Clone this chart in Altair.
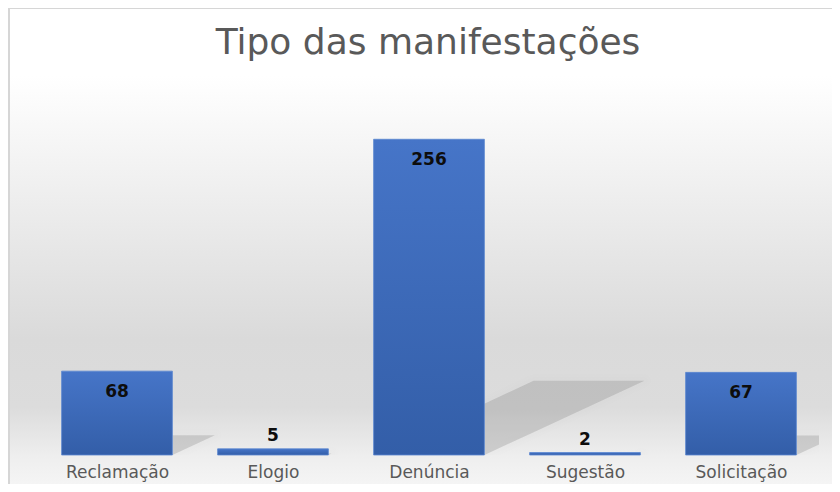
import json
import altair as alt
import pandas as pd

categories = ["Reclamação", "Elogio", "Denúncia", "Sugestão", "Solicitação"]
values = [68, 5, 256, 2, 67]
title_text = ["Tipo das manifestações"]

W, H = 780, 370
HALF = 0.355          # half bar width in category units
KX = (160 / 256) / 156  # shadow x shift per value unit (category units)
KY = 0.235            # shadow height factor

df = pd.DataFrame({"idx": list(range(len(categories))), "cat": categories, "val": values})
df["x0"] = df["idx"] - HALF
df["x1"] = df["idx"] + HALF
df["zero"] = 0

# shadow polygon (visible part right of each bar), derived from the values
rows = []
for i, v in zip(df["idx"], values):
    L, R = i - HALF, i + HALF
    d, e = v * KX, v * KY
    w = R - L
    pts = [(R, 0.0, min(e, e * w / d))]
    if L + d > R:
        pts.append((L + d, e * (L + d - R) / d, e))
    pts.append((R + d, e, e))
    for x, lo, hi in pts:
        rows.append({"g": i, "sx": x, "lo": lo, "hi": hi})
sh = pd.DataFrame(rows)

FONT = "DejaVu Sans"
xscale = alt.Scale(domain=[-0.5, len(categories) - 0.5], nice=False, zero=False)
yscale = alt.Scale(domain=[0, 300], nice=False)
xaxis = alt.Axis(values=list(range(len(categories))),
                 labelExpr=json.dumps(categories, ensure_ascii=False) + "[datum.value]",
                 title=None, grid=False, domain=False, ticks=False, zindex=2,
                 labelFont=FONT, labelFontSize=17, labelColor="#595959",
                 labelPadding=9)

bg = alt.Chart(pd.DataFrame({"a": [0]})).mark_rect(
    color=alt.Gradient(
        gradient="linear", x1=0, x2=0, y1=0, y2=1,
        stops=[
            alt.GradientStop(offset=0, color="#ffffff"),
            alt.GradientStop(offset=0.14, color="#ffffff"),
            alt.GradientStop(offset=0.68, color="#dadada"),
            alt.GradientStop(offset=0.82, color="#dcdcdc"),
            alt.GradientStop(offset=0.92, color="#eeeeee"),
            alt.GradientStop(offset=1, color="#f7f7f7"),
        ],
    ),
    stroke="#d6d6d6", strokeWidth=2,
).encode(x=alt.value(-30), x2=alt.value(W + 60), y=alt.value(-77), y2=alt.value(H + 40))

title = alt.Chart(pd.DataFrame({"t": title_text})).mark_text(
    font=FONT, fontSize=36, color="#595959", baseline="alphabetic", align="center"
).encode(x=alt.value(W / 2 - 1), y=alt.value(-31), text="t:N")

shadow_layers = []
for op, sw in [(0.05, 12), (0.08, 6), (0.16, 0)]:
    shadow_layers.append(
        alt.Chart(sh).mark_area(color="#7a7a7a", opacity=op, clip=True, interpolate="linear",
                                stroke="#7a7a7a", strokeWidth=sw, strokeJoin="round",
                                strokeOpacity=op).encode(
            x=alt.X("sx:Q", scale=xscale, axis=xaxis),
            y=alt.Y("lo:Q", scale=yscale, axis=None),
            y2="hi:Q",
            detail="g:N",
        )
    )

bars = alt.Chart(df).mark_bar(
    color=alt.Gradient(
        gradient="linear", x1=0, x2=0, y1=0, y2=1,
        stops=[alt.GradientStop(offset=0, color="#4675c8"),
               alt.GradientStop(offset=1, color="#335ea8")],
    ),
    stroke="#5b86d0", strokeWidth=0.8,
).encode(
    x=alt.X("x0:Q", scale=xscale, axis=xaxis),
    x2="x1:Q",
    y=alt.Y("val:Q", scale=yscale, axis=None),
    y2="zero:Q",
)

lab_in = alt.Chart(df).transform_filter("datum.val > 20").mark_text(
    font=FONT, fontWeight="bold", fontSize=17, color="#0d0d0d", baseline="middle", dy=21
).encode(x=alt.X("idx:Q", scale=xscale, axis=xaxis), y=alt.Y("val:Q", scale=yscale, axis=None), text="val:Q")

lab_out = alt.Chart(df).transform_filter("datum.val <= 20").mark_text(
    font=FONT, fontWeight="bold", fontSize=17, color="#0d0d0d", baseline="middle", dy=-13
).encode(x=alt.X("idx:Q", scale=xscale, axis=xaxis), y=alt.Y("val:Q", scale=yscale, axis=None), text="val:Q")

chart = alt.layer(bg, *shadow_layers, bars, lab_in, lab_out, title).properties(
    width=W, height=H,
    autosize=alt.AutoSizeParams(type="none"),
    padding={"left": 31, "top": 77, "right": 13, "bottom": 29},
).configure_view(stroke=None)

chart.save("out.html", embed_options={"renderer": "svg", "actions": False})
